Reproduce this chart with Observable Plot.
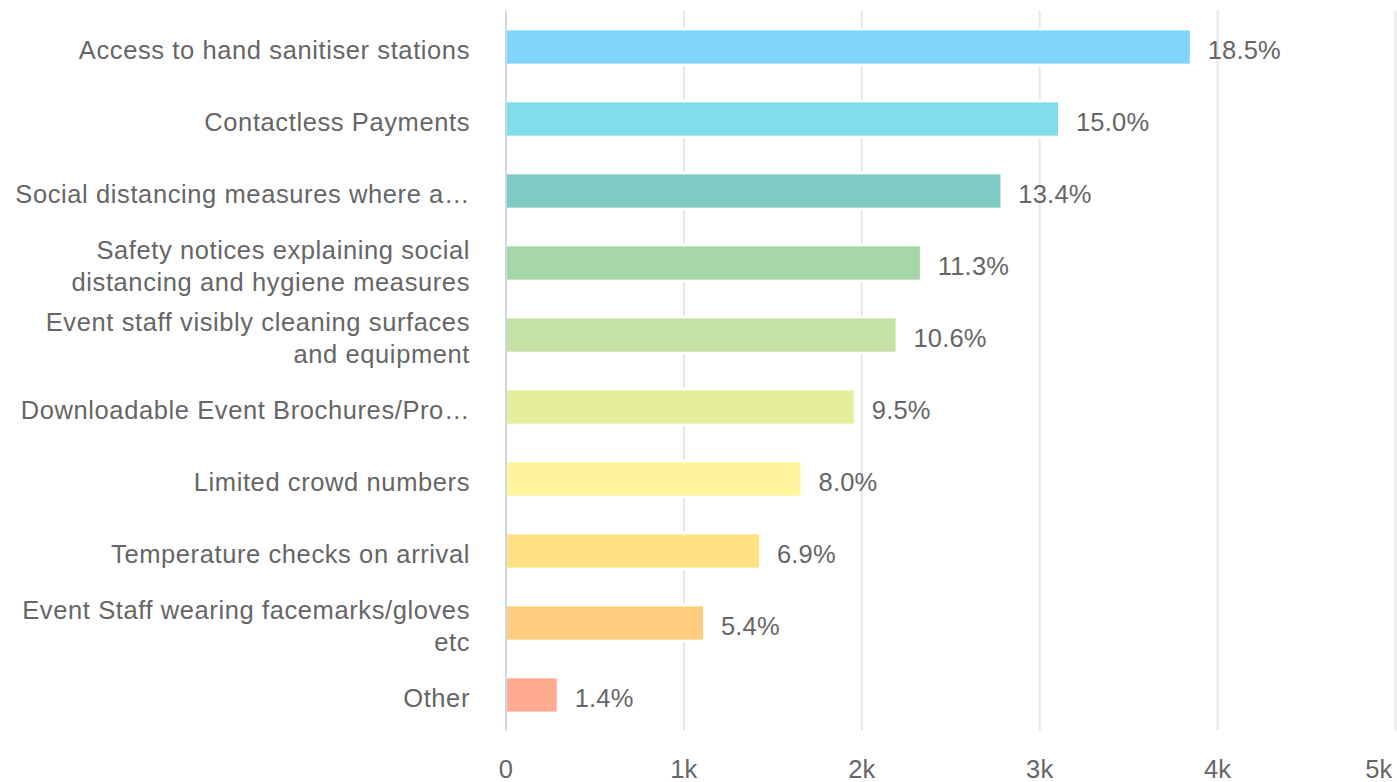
<!DOCTYPE html>
<html>
<head>
<meta charset="utf-8">
<script src="https://cdn.jsdelivr.net/npm/d3@7"></script>
<script src="https://cdn.jsdelivr.net/npm/@observablehq/plot@0.6"></script>
<style>
  html, body { margin: 0; padding: 0; background: #fff; }
  #chart svg { display: block; }
  #chart g[aria-label="y-axis tick label"] { letter-spacing: 0.6px; }
  #chart g.value-label, #chart g.tick-label { letter-spacing: 0.2px; }
</style>
</head>
<body>
<div id="chart"></div>
<script>
const categories = [
  "Access to hand sanitiser stations",
  "Contactless Payments",
  "Social distancing measures where a…",
  "Safety notices explaining social\ndistancing and hygiene measures",
  "Event staff visibly cleaning surfaces\nand equipment",
  "Downloadable Event Brochures/Pro…",
  "Limited crowd numbers",
  "Temperature checks on arrival",
  "Event Staff wearing facemarks/gloves\netc",
  "Other"
];
const values = [3854, 3114, 2790, 2337, 2200, 1966, 1667, 1433, 1118, 296];
const percentLabels = ["18.5%", "15.0%", "13.4%", "11.3%", "10.6%", "9.5%", "8.0%", "6.9%", "5.4%", "1.4%"];
const colors = ["#81D4FA", "#80DEEA", "#80CBC4", "#A5D6A7", "#C5E1A5", "#E6EE9C", "#FFF59D", "#FFE082", "#FFCC80", "#FFAB91"];
const xTicks = [0, 1000, 2000, 3000, 4000, 5000];
const xTickLabels = ["0", "1k", "2k", "3k", "4k", "5k"];

const rows = categories.map((c, i) => ({cat: c, value: values[i], label: percentLabels[i]}));
const ticks = xTicks.map((t, i) => ({t, label: xTickLabels[i]}));
const font = "'Liberation Sans', Arial, Helvetica, sans-serif";

const chart = Plot.plot({
  width: 1397,
  height: 782,
  marginLeft: 505.5,
  marginRight: 2,
  marginTop: 10.7,
  marginBottom: 51.3,
  style: {fontFamily: font, background: "#fff"},
  x: {domain: [0, 5000], axis: null},
  y: {domain: categories, paddingInner: 0.5, paddingOuter: 0.25, axis: null},
  color: {domain: categories, range: colors},
  marks: [
    Plot.ruleX(xTicks.slice(1), {stroke: "#e6e6e6", strokeWidth: 2}),
    Plot.barX(rows, {x: "value", y: "cat", fill: "cat", stroke: "#fff", strokeWidth: 2.7}),
    Plot.ruleX([0], {stroke: "#ccd6eb", strokeWidth: 2}),
    Plot.text(rows, {x: "value", y: "cat", text: "label", textAnchor: "start", dx: 16, dy: 3,
      fill: "#666", fontSize: 25.5, className: "value-label"}),
    Plot.axisY({tickSize: 0, tickPadding: 36, fontSize: 25.5, color: "#666", textAnchor: "end",
      lineHeight: 1.26, label: null, dy: 1}),
    Plot.text(ticks.slice(0, 5), {x: "t", text: "label", frameAnchor: "bottom", dy: 39,
      lineAnchor: "middle", fill: "#666", fontSize: 25.5, className: "tick-label"}),
    Plot.text(ticks.slice(5), {x: "t", text: "label", frameAnchor: "bottom", dy: 39, dx: -3,
      lineAnchor: "middle", textAnchor: "end", fill: "#666", fontSize: 25.5, className: "tick-label"})
  ]
});
document.getElementById("chart").appendChild(chart);
</script>
</body>
</html>
